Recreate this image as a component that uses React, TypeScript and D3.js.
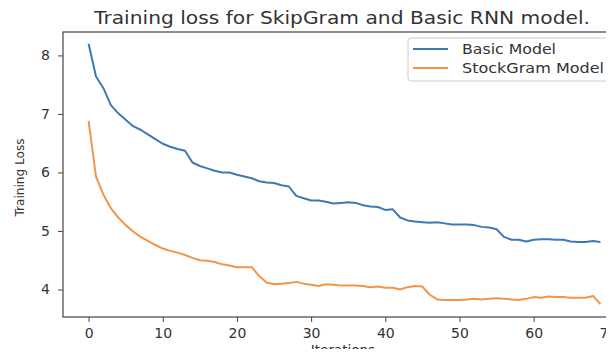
import React, { useEffect, useRef } from 'react'
import * as d3 from 'd3'

// training loss per iteration
const basicLoss = [
  8.2, 7.64, 7.44, 7.15, 7.01, 6.9, 6.79, 6.73, 6.65, 6.57,
  6.49, 6.44, 6.4, 6.37, 6.17, 6.11, 6.07, 6.03, 6.0, 6.0,
  5.96, 5.93, 5.9, 5.85, 5.83, 5.82, 5.78, 5.76, 5.6, 5.56,
  5.52, 5.52, 5.5, 5.47, 5.48, 5.49, 5.48, 5.44, 5.42, 5.41,
  5.36, 5.37, 5.23, 5.18, 5.16, 5.15, 5.14, 5.15, 5.13, 5.11,
  5.11, 5.11, 5.1, 5.07, 5.06, 5.03, 4.9, 4.85, 4.85, 4.82,
  4.85, 4.86, 4.86, 4.85, 4.85, 4.82, 4.81, 4.81, 4.83, 4.81,
]
const stockGramLoss = [
  6.88, 5.93, 5.62, 5.39, 5.23, 5.1, 4.99, 4.9, 4.83, 4.76,
  4.7, 4.66, 4.63, 4.59, 4.54, 4.5, 4.49, 4.47, 4.43, 4.41,
  4.38, 4.38, 4.38, 4.23, 4.12, 4.09, 4.1, 4.11, 4.13, 4.1,
  4.08, 4.06, 4.09, 4.08, 4.07, 4.07, 4.07, 4.06, 4.04, 4.05,
  4.03, 4.03, 4.0, 4.04, 4.06, 4.05, 3.91, 3.83, 3.82, 3.82,
  3.82, 3.83, 3.84, 3.83, 3.84, 3.85, 3.84, 3.83, 3.82, 3.84,
  3.87, 3.86, 3.88, 3.87, 3.87, 3.86, 3.86, 3.86, 3.89, 3.75,
]
const seriesNames = ['Basic Model', 'StockGram Model']
const seriesColors = ['#3d7ab3', '#f39548']
const xTicks = [0, 10, 20, 30, 40, 50, 60, 70]
const yTicks = [4, 5, 6, 7, 8]

const W = 614
const H = 357
const font = 'DejaVu Sans, sans-serif'

export default function App() {
  const ref = useRef<SVGSVGElement>(null)

  useEffect(() => {
    const svg = d3.select(ref.current)
    svg.selectAll('*').remove()

    const left = 63, right = 626, top = 32, bottom = 317
    const x = d3.scaleLinear().domain([-3.45, 72.45]).range([left, right])
    const y = d3.scaleLinear().domain([3.53, 8.4]).range([bottom, top])

    const txtColor = '#333'

    // title (the source picture is stretched sideways a bit)
    svg.append('text')
      .attr('x', 94).attr('y', 24)
      .attr('font-family', font).attr('font-size', 18)
      .attr('textLength', 496).attr('lengthAdjust', 'spacingAndGlyphs')
      .attr('fill', txtColor)
      .text('Training loss for SkipGram and Basic RNN model.')

    // axes
    const xAxis = svg.append('g')
      .attr('transform', `translate(0,${bottom})`)
      .call(d3.axisBottom(x).tickValues(xTicks).tickSize(5).tickPadding(6).tickFormat(d3.format('d')))
    const yAxis = svg.append('g')
      .attr('transform', `translate(${left},0)`)
      .call(d3.axisLeft(y).tickValues(yTicks).tickSize(5).tickPadding(8).tickFormat(d3.format('d')))
    ;[xAxis, yAxis].forEach(g => {
      g.select('.domain').remove()
      g.selectAll('line').attr('stroke', '#444').attr('stroke-width', 1)
      g.selectAll('text').attr('font-family', font).attr('font-size', 14).attr('fill', txtColor)
    })

    // spines
    svg.append('rect')
      .attr('x', left).attr('y', top)
      .attr('width', right - left).attr('height', bottom - top)
      .attr('fill', 'none').attr('stroke', '#444').attr('stroke-width', 1.2)

    // lines
    const line = d3.line<number>()
      .x((d, i) => x(i))
      .y(d => y(d))
    ;[basicLoss, stockGramLoss].forEach((s, k) => {
      svg.append('path')
        .attr('d', line(s))
        .attr('fill', 'none')
        .attr('stroke', seriesColors[k])
        .attr('stroke-width', 2)
        .attr('stroke-linejoin', 'round')
    })

    // axis labels
    svg.append('text')
      .attr('x', 343).attr('y', 355)
      .attr('text-anchor', 'middle')
      .attr('font-family', font).attr('font-size', 13.5)
      .attr('fill', txtColor)
      .text('Iterations')
    svg.append('text')
      .attr('transform', `translate(24,${(top + bottom) / 2 + 3}) rotate(-90)`)
      .attr('text-anchor', 'middle')
      .attr('font-family', font).attr('font-size', 13)
      .attr('textLength', 78).attr('lengthAdjust', 'spacingAndGlyphs')
      .attr('fill', txtColor)
      .text('Training Loss')

    // legend
    const lg = svg.append('g')
    lg.append('rect')
      .attr('x', 408).attr('y', 38).attr('width', 205).attr('height', 43)
      .attr('rx', 3)
      .attr('fill', 'white').attr('stroke', '#ccc').attr('stroke-width', 1)
    const labelLen = [94, 142]
    seriesNames.forEach((name, k) => {
      const ly = 49 + k * 19
      lg.append('line')
        .attr('x1', 413).attr('x2', 448).attr('y1', ly).attr('y2', ly)
        .attr('stroke', seriesColors[k]).attr('stroke-width', 2)
      lg.append('text')
        .attr('x', 462).attr('y', ly + 5)
        .attr('font-family', font).attr('font-size', 14.5)
        .attr('textLength', labelLen[k]).attr('lengthAdjust', 'spacingAndGlyphs')
        .attr('fill', txtColor)
        .text(name)
    })
  }, [])

  return (
    <div style={{ margin: -8 }}>
      <svg ref={ref} width={W} height={H} style={{ display: 'block', background: 'white' }} />
    </div>
  )
}
